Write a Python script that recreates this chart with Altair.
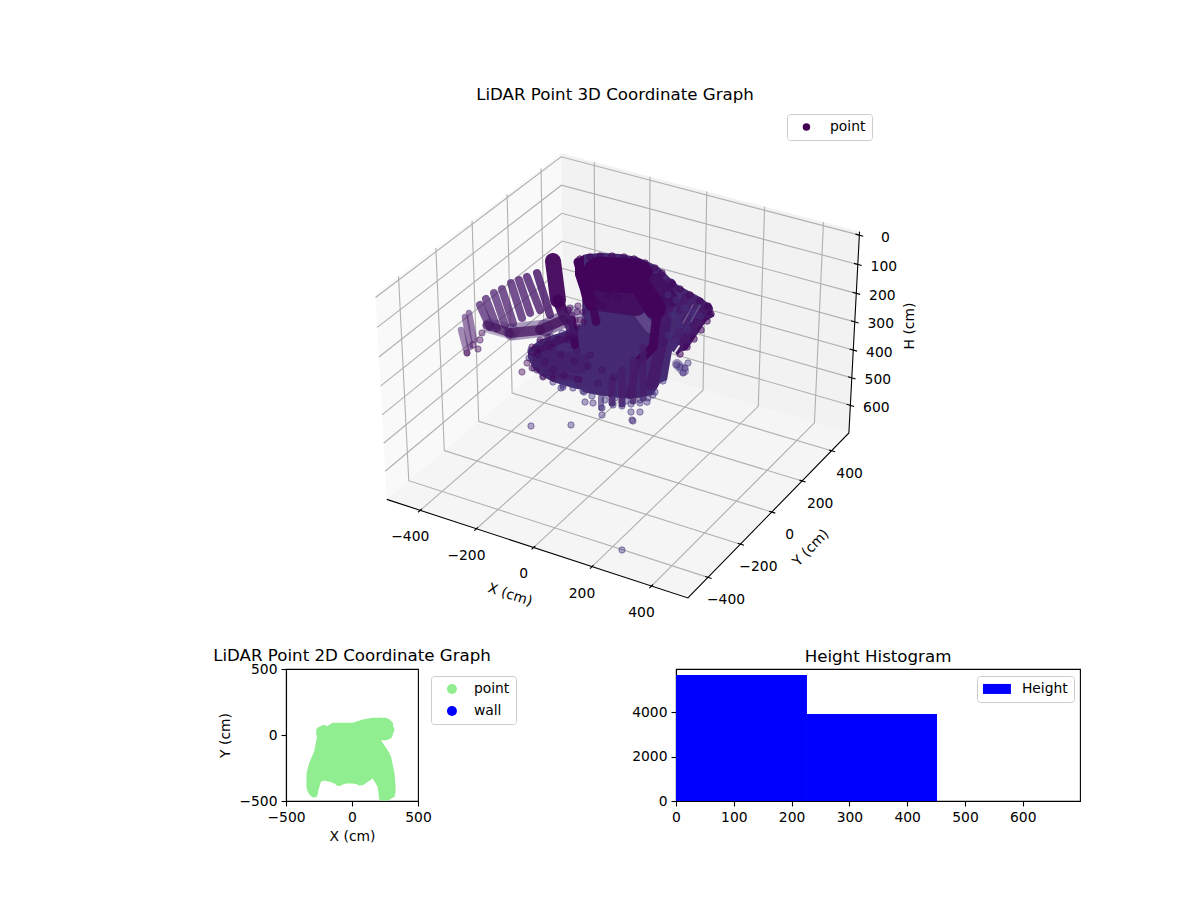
import numpy as np
import pandas as pd
import altair as alt

FONT = "DejaVu Sans"
TICK_PX = 13.89
TITLE_PX = 16.67

# ---- 3D frame -------------------------------------------------------------
x_lim = [-520.8, 520.8]
y_lim = [-520.8, 520.8]
h_lim = [-12, 702]
x_ticks = [-400, -200, 0, 200, 400]
y_ticks = [-400, -200, 0, 200, 400]
h_ticks = [0, 100, 200, 300, 400, 500, 600]
# known places: (x, y, h) -> view-plane position
known_cm = [(-520.8, -520.8, 702), (520.8, -520.8, 702), (520.8, 520.8, 702),
            (-520.8, -520.8, -12), (-520.8, 520.8, -12), (520.8, 520.8, -12),
            (520.8, 520.8, 0), (520.8, 520.8, 600), (-400, -520.8, 702), (400, -520.8, 702)]
known_u = [386, 689, 849, 376, 562, 859, 859, 851, 420, 650]
known_v = [499, 597, 433, 294, 155, 231, 234, 404, 512, 587]

# ---- 3D cloud in the view plane -------------------------------------------
D = "#41045a"
M = "#451868"
L = "#452a72"
P = "#4a1a6c"
# outline of the dense mass: position, upper and lower edge
mass_u = [528, 533, 540, 553, 563, 573, 582, 583, 587, 603, 620, 637, 653, 660, 667, 672, 678, 687, 700, 708, 714]
mass_top = [353, 345, 340, 335, 332, 327, 323, 255, 254, 253, 254, 257, 264, 268, 275, 280, 285, 290, 297, 303, 315]
mass_bot = [358, 368, 375, 382, 385, 388, 390, 392, 393, 396, 398, 398, 395, 383, 380, 351, 355, 343, 325, 320, 316]
shoulder_u = [575, 580, 584]
shoulder_top = [262, 257, 255]
shoulder_bot = [275, 290, 306]
cloud_strokes = [
    # pale cluster between strut and mass
    (574, 312, 578, 320, 13, "#8a78ab", .5),
    # lobe shade
    (542, 358, 580, 364, 20, "#44206a", .75),
    # right wing
    (707, 309, 683, 345, 12, M, 1), (670, 285, 662, 340, 13, M, .95), (662, 340, 652, 385, 12, M, .9),
    (686, 297, 680, 310, 8, M, .8), (695, 300, 675, 340, 8, "#47206c", .7),
    # lighter patches
    (640, 315, 650, 328, 10, "#7a62a0", .5), (677, 364, 684, 371, 10, "#46327e", .5),
    (693, 305, 683, 323, 1.2, "#ffffff", .28), (700, 305, 691, 322, 1.1, "#ffffff", .22),
    (679, 346, 675, 352, 2, "#ffffff", .85),
    # upper dark mass
    (600, 300, 636, 305, 22, "#431060", 1), (600, 274, 636, 276, 35, D, 1), (640, 283, 655, 308, 22, D, 1),
    (578, 262, 590, 306, 9, D, 1), (590, 290, 596, 322, 8, D, .9), (656, 280, 672, 300, 14, "#43105f", .9),
    # dark stripes over the body
    (657, 313, 653, 347, 9, D, .95), (653, 347, 637, 363, 9, D, .95), (637, 363, 630, 395, 8, M, .9),
    (572, 320, 575, 345, 8, D, .95),
    # lower left lobe
    (532, 352, 570, 335, 9, "#431362", .9), (545, 372, 580, 380, 6, "#431362", .5),
    # wing columns
    (480, 305, 490, 327, 8, P, .72), (486, 299, 497, 328, 8, P, .72), (494, 293, 505, 325, 8, P, .72),
    (502, 289, 513, 323, 8, P, .74), (511, 283, 522, 318, 8, P, .76), (519, 280, 530, 313, 8, P, .78),
    (527, 277, 540, 310, 8, P, .8), (537, 273, 550, 315, 8, P, .85),
    (469, 313, 474, 340, 6.5, P, .55), (465, 317, 470, 347, 6.5, P, .55), (461, 330, 467, 353, 6.5, P, .5),
    # wing strut
    (553, 261, 558, 300, 16, D, .95), (558, 300, 565, 318, 11, D, .95), (565, 318, 573, 335, 8, M, .9),
    # band below the wing
    (490, 326, 512, 332, 15, "#4a2a72", .35), (512, 332, 545, 328, 17, "#4a2a72", .45),
    (545, 328, 566, 318, 17, "#4a2a72", .55),
    (487, 325, 510, 333, 9, "#45145f", .68), (510, 333, 540, 330, 10, "#45145f", .75),
    (540, 330, 563, 320, 10, "#45145f", .85),
    # bottom columns
    (601, 397, 601, 408, 6, "#472f78", .65), (612, 380, 612, 403, 7, "#461d6a", .9),
    (622, 370, 622, 404, 7, "#461d6a", .9), (633, 360, 633, 401, 7, "#461d6a", .85),
    (643, 347, 643, 398, 7, "#461d6a", .8),
]
# loose points at the top of the range, drawn in the legend colour
wing_u = [482, 480, 478, 467, 473, 522, 527, 532, 537, 543, 553, 532, 540, 548, 538, 577, 575, 580, 572, 570, 578, 583, 569, 584, 577]
wing_v = [333, 340, 349, 353, 345, 372, 363, 368, 370, 377, 378, 347, 340, 337, 350, 312, 320, 320, 315, 308, 306, 312, 322, 322, 327]
# dense points along the upper rim
rim_u = [580, 590, 600, 612, 624, 634, 645, 655, 662, 672, 680, 690, 700, 708, 711, 707, 701, 694, 687, 680,
         588, 597, 602, 618, 598, 608, 613, 597, 572, 568]
rim_v = [259, 257, 256, 256, 257, 259, 263, 268, 273, 284, 289, 295, 301, 306, 314, 321, 330, 339, 347, 354,
         303, 302, 305, 298, 287, 295, 290, 320, 337, 310]
# scattered points across the lower left lobe
lobe_dot_u = [538, 552, 568, 545, 561, 577, 553, 574, 590, 564, 588, 578, 602, 598, 614]
lobe_dot_v = [355, 347, 340, 362, 355, 350, 370, 361, 355, 375, 366, 379, 370, 383, 377]
# loose points lower in the range
low_u = [531, 571, 633, 622, 583, 585, 593, 602, 602, 613, 622, 631, 631, 640, 640, 632, 647, 653, 563, 561, 570, 683, 688, 680, 677, 685,
         663, 655, 648, 640, 626, 615, 605, 592, 584, 573, 563, 553, 543, 534, 529, 531, 540, 551, 562,
         668, 676, 684, 692, 700, 672, 680, 688, 668, 676]
low_v = [426, 425, 421, 550, 391, 402, 403, 415, 408, 405, 406, 404, 412, 403, 412, 420, 402, 395, 387, 388, 382, 373, 363, 367, 365, 368,
         381, 392, 398, 400, 401, 398, 400, 396, 392, 388, 385, 382, 376, 368, 358, 350, 342, 337, 333,
         295, 300, 308, 312, 316, 315, 325, 330, 335, 342]

# ---- 2D footprint ---------------------------------------------------------
body_x = [-345, -325, -287, -269, -261, -236, -198, -147, -96, -46, 5, 81, 157, 195, 208, 221, 222, 259, 284, 297, 322, 330]
body_top = [-291, -214, -125, -36, 15, 36, 61, 92, 92, 92, 92, 117, 130, 130, 130, 130, -43, -99, -138, -170, -291, -393]
body_bot = [-393, -449, -474, -469, -444, -355, -342, -362, -385, -367, -367, -380, -329, -393, -495, -495, -495, -500, -490, -482, -469, -430]
lobe_x = [200, 259, 284, 300, 310]
lobe_top = [130, 130, 117, 95, 61]
lobe_bot = [-40, -40, -30, -20, 3]
edge_x = [-290, -310, 240, 290, 280, 290, -100, 60, -180, -240, -240, -215]
edge_y = [-440, -410, -465, -440, 80, 40, -355, -350, -320, 10, 30, 45]

# ---- Histogram ------------------------------------------------------------
bin_start = [0, 226.0, 451.6]
bin_end = [226.6, 451.6, 678]
bin_count = [5675, 3920, 4]


# ---- projection -----------------------------------------------------------
box = np.array([4, 4, 3]) * 1.8294640721620434 / np.linalg.norm([4, 4, 3])
center = box / 2


def to_box(x, y, h):
    return np.array([(x - x_lim[0]) / (x_lim[1] - x_lim[0]) * box[0],
                     (y - y_lim[0]) / (y_lim[1] - y_lim[0]) * box[1],
                     (h_lim[1] - h) / (h_lim[1] - h_lim[0]) * box[2]])


def view_basis(el_deg, az_deg, dist):
    el, az = np.radians(el_deg), np.radians(az_deg)
    w = np.array([np.cos(el) * np.cos(az), np.cos(el) * np.sin(az), np.sin(el)])
    u = np.cross([0, 0, 1], w)
    u = u / np.linalg.norm(u)
    return center + dist * w, u, np.cross(w, u), w


def raw_many(pts, basis):
    eye, u, v, w = basis
    p = pts - eye
    d = -(p @ w)
    return (p @ u) / d, (p @ v) / d


known_box = np.array([to_box(*c) for c in known_cm])
tu, tv = np.array(known_u, float), np.array(known_v, float)
best = None
for e in np.arange(20, 46, 1.0):
    for a in np.arange(-75, -44, 1.0):
        for dd in np.arange(4, 15, 0.5):
            b = view_basis(e, a, dd)
            ru, rv = raw_many(known_box, b)
            cu = np.polyfit(ru, tu, 1)
            cv = np.polyfit(rv, tv, 1)
            err = np.sum((np.polyval(cu, ru) - tu) ** 2) + np.sum((np.polyval(cv, rv) - tv) ** 2)
            if best is None or err < best[0]:
                best = (err, b, cu, cv)
_, basis, fit_u, fit_v = best


def project(x, y, h):
    ru, rv = raw_many(to_box(x, y, h)[None, :], basis)
    return float(np.polyval(fit_u, ru)[0]), float(np.polyval(fit_v, rv)[0])


X0, X1 = x_lim
Y0, Y1 = y_lim
HT, HB = h_lim

SU = alt.Scale(domain=[8, 1192], nice=False, zero=False)
SV = alt.Scale(domain=[648, 8], nice=False, zero=False)
U = alt.X("u:Q", scale=SU, axis=None)
V = alt.Y("v:Q", scale=SV, axis=None)


def pane(corners, colour):
    pts = [project(*c) for c in corners]
    rows = []
    for u0, _ in pts:
        vs = []
        for i in range(4):
            (a, b), (c, d) = pts[i], pts[(i + 1) % 4]
            if min(a, c) <= u0 <= max(a, c) and a != c:
                vs.append(b + (d - b) * (u0 - a) / (c - a))
        rows.append({"u": u0, "v": min(vs), "v2": max(vs)})
    return alt.Chart(pd.DataFrame(rows)).mark_area(color=colour, opacity=1).encode(
        x=U, y=V, y2=alt.Y2("v2:Q"))


panes = [
    pane([(X0, Y0, HB), (X0, Y0, HT), (X0, Y1, HT), (X0, Y1, HB)], "#f9f9f9"),
    pane([(X0, Y1, HB), (X0, Y1, HT), (X1, Y1, HT), (X1, Y1, HB)], "#f2f2f2"),
    pane([(X0, Y0, HB), (X1, Y0, HB), (X1, Y1, HB), (X0, Y1, HB)], "#f5f5f5"),
]

grid_rows, ink_rows = [], []


def add_path(store, pts):
    g = (store[-1]["g"] + 1) if store else 0
    for o, p in enumerate(pts):
        a, b = project(*p)
        store.append({"g": g, "o": o, "u": a, "v": b})


for t in x_ticks:
    add_path(grid_rows, [(t, Y0, HB), (t, Y1, HB), (t, Y1, HT)])
for t in y_ticks:
    add_path(grid_rows, [(X1, t, HB), (X0, t, HB), (X0, t, HT)])
for t in h_ticks:
    add_path(grid_rows, [(X0, Y0, t), (X0, Y1, t), (X1, Y1, t)])

add_path(ink_rows, [(X0, Y0, HB), (X1, Y0, HB), (X1, Y1, HB), (X1, Y1, HT)])
labels = []
for t in x_ticks:
    add_path(ink_rows, [(t, Y0 + 9, HB), (t, Y0 - 12, HB)])
    a, b = project(t, Y0, HB)
    labels.append({"u": a - 10, "v": b + 27, "t": str(t).replace("-", "\u2212"), "a": 0})
for t in y_ticks:
    add_path(ink_rows, [(X1 - 9, t, HB), (X1 + 12, t, HB)])
    a, b = project(X1, t, HB)
    labels.append({"u": a + 18, "v": b + 23, "t": str(t).replace("-", "\u2212"), "a": 0})
for t in h_ticks:
    add_path(ink_rows, [(X1 - 13, Y1, t), (X1 + 13, Y1, t)])
    a, b = project(X1, Y1, t)
    labels.append({"u": a + 26, "v": b + 2.5, "t": str(t), "a": 0})
labels += [
    {"u": 510, "v": 595, "t": "X (cm)", "a": 18},
    {"u": 811, "v": 548, "t": "Y (cm)", "a": 314},
    {"u": 910, "v": 326, "t": "H (cm)", "a": 270},
]

grid = alt.Chart(pd.DataFrame(grid_rows)).mark_line(color="#b0b0b0", strokeWidth=1.1).encode(
    x=U, y=V, detail="g:N", order="o:Q")
ink = alt.Chart(pd.DataFrame(ink_rows)).mark_line(color="black", strokeWidth=1.1).encode(
    x=U, y=V, detail="g:N", order="o:Q")
text3d = alt.Chart(pd.DataFrame(labels)).mark_text(
    font=FONT, fontSize=TICK_PX, color="black", align="center", baseline="middle").encode(
    x=U, y=V, text="t:N", angle=alt.Angle("a:Q", scale=None))
title3d = alt.Chart(pd.DataFrame({"u": [615], "v": [95], "t": ["LiDAR Point 3D Coordinate Graph"]})).mark_text(
    font=FONT, fontSize=TITLE_PX, color="black", align="center", baseline="middle").encode(x=U, y=V, text="t:N")

mass = alt.Chart(pd.DataFrame({"u": mass_u, "v": mass_top, "v2": mass_bot})).mark_area(color=L, opacity=1).encode(
    x=U, y=V, y2=alt.Y2("v2:Q"))
shoulder = alt.Chart(pd.DataFrame({"u": shoulder_u, "v": shoulder_top, "v2": shoulder_bot})).mark_area(color=D, opacity=1).encode(
    x=U, y=V, y2=alt.Y2("v2:Q"))
strokes_df = pd.DataFrame(cloud_strokes, columns=["u", "v", "u2", "v2", "w", "c", "a"])
strokes = alt.Chart(strokes_df).mark_rule(strokeCap="round").encode(
    x=U, y=V, x2=alt.X2("u2:Q"), y2=alt.Y2("v2:Q"),
    strokeWidth=alt.StrokeWidth("w:Q", scale=None),
    color=alt.Color("c:N", scale=None),
    opacity=alt.Opacity("a:Q", scale=None))
rim = alt.Chart(pd.DataFrame({"u": rim_u, "v": rim_v})).mark_circle(
    size=44, color="#42085c", stroke="#42085c", strokeWidth=1, fillOpacity=.55, strokeOpacity=.6).encode(x=U, y=V)
lobe_dots = alt.Chart(pd.DataFrame({"u": lobe_dot_u, "v": lobe_dot_v})).mark_circle(
    size=44, color="#42085c", stroke="#42085c", strokeWidth=1, fillOpacity=.3, strokeOpacity=.35).encode(x=U, y=V)
low = alt.Chart(pd.DataFrame({"u": low_u, "v": low_v})).mark_circle(
    size=40, color="#46327e", stroke="#46327e", strokeWidth=1, fillOpacity=.42, strokeOpacity=.55).encode(x=U, y=V)
wing = alt.Chart(pd.DataFrame({"u": wing_u, "v": wing_v, "s": ["point"] * len(wing_u)})).mark_circle(
    size=40, stroke="#46206a", strokeWidth=1, fillOpacity=.42, strokeOpacity=.5).encode(
    x=U, y=V,
    color=alt.Color("s:N", title=None, scale=alt.Scale(domain=["point"], range=["#440154"]),
                    legend=alt.Legend(orient="none", legendX=779, legendY=106, fillColor="white",
                                      strokeColor="#cccccc", cornerRadius=3, padding=6,
                                      symbolType="circle", symbolSize=56, symbolOpacity=1,
                                      symbolStrokeWidth=0, symbolOffset=6.5, labelOffset=16.6,
                                      labelFont=FONT, labelFontSize=TICK_PX, labelColor="black")))

top = alt.layer(*panes, grid, ink, mass, shoulder, strokes, low, lobe_dots, rim, wing, text3d, title3d).properties(
    width=1184, height=640).resolve_scale(color="independent")

# ---- 2D panel -------------------------------------------------------------
S2X = alt.Scale(domain=[-500, 500], nice=False, zero=False)
S2Y = alt.Scale(domain=[-500, 500], nice=False, zero=False)
AX2 = alt.Axis(values=[-500, 0, 500], title="X (cm)", grid=False, labelFlush=False, format="d")
AY2 = alt.Axis(values=[-500, 0, 500], title="Y (cm)", grid=False, labelFlush=False, format="d")
GREEN = "#90ee90"
body = alt.Chart(pd.DataFrame({"x": body_x, "y": body_top, "y2": body_bot})).mark_area(color=GREEN, opacity=1).encode(
    x=alt.X("x:Q", scale=S2X, axis=AX2), y=alt.Y("y:Q", scale=S2Y, axis=AY2), y2="y2:Q")
lobe = alt.Chart(pd.DataFrame({"x": lobe_x, "y": lobe_top, "y2": lobe_bot})).mark_area(color=GREEN, opacity=1).encode(
    x=alt.X("x:Q", scale=S2X), y=alt.Y("y:Q", scale=S2Y), y2="y2:Q")
edge = alt.Chart(pd.DataFrame({"x": edge_x, "y": edge_y, "s": ["point"] * len(edge_x)})).mark_circle(
    size=70, opacity=1, clip=True).encode(
    x=alt.X("x:Q", scale=S2X), y=alt.Y("y:Q", scale=S2Y),
    color=alt.Color("s:N", title=None, scale=alt.Scale(domain=["point", "wall"], range=[GREEN, "#0000ff"]),
                    legend=alt.Legend(orient="none", legendX=145, legendY=7, fillColor="white",
                                      strokeColor="#cccccc", cornerRadius=3, padding=6,
                                      symbolType="circle", symbolSize=100, symbolOpacity=1,
                                      symbolStrokeWidth=0, symbolOffset=8, labelOffset=15,
                                      rowPadding=7,
                                      labelFont=FONT, labelFontSize=TICK_PX, labelColor="black")))
frame = alt.ViewConfig(stroke="black", strokeWidth=1.1)
left = alt.layer(body, lobe, edge).properties(
    width=132, height=132, view=frame,
    title=alt.TitleParams("LiDAR Point 2D Coordinate Graph", offset=3, dy=6))

# ---- Histogram ------------------------------------------------------------
hist_df = pd.DataFrame({"a": bin_start, "b": bin_end, "n": bin_count, "s": ["Height"] * 3})
right = alt.Chart(hist_df).mark_rect().encode(
    x=alt.X("a:Q", scale=alt.Scale(domain=[0, 699], nice=False, zero=False),
            axis=alt.Axis(values=[0, 100, 200, 300, 400, 500, 600], title=None, grid=False, labelFlush=False, format="d")),
    x2="b:Q",
    y=alt.Y("n:Q", scale=alt.Scale(domain=[0, 5945], nice=False),
            axis=alt.Axis(values=[0, 2000, 4000], title=None, grid=False, labelFlush=False, format="d")),
    y2=alt.datum(0),
    color=alt.Color("s:N", title=None, scale=alt.Scale(domain=["Height"], range=["#0000ff"]),
                    legend=alt.Legend(orient="none", legendX=301, legendY=7, fillColor="white",
                                      strokeColor="#cccccc", cornerRadius=3, padding=6,
                                      symbolType="M-2.8,-1H2.8V1H-2.8Z", symbolSize=100,
                                      symbolOpacity=1, symbolStrokeWidth=0, symbolOffset=7, labelOffset=18,
                                      labelFont=FONT, labelFontSize=TICK_PX, labelColor="black")),
).properties(width=404, height=132, view=frame, title=alt.TitleParams("Height Histogram", offset=3))

spacer = alt.Chart(pd.DataFrame({"a": [0]})).mark_text(opacity=0).encode(text="a:N").properties(width=20, height=132)

bottom = alt.hconcat(spacer, left, right, spacing=258, bounds="flush").resolve_scale(color="independent")
chart = alt.vconcat(top, bottom, spacing=21, bounds="flush", padding=0).resolve_scale(color="independent").configure_view(
    strokeWidth=0
).configure_axis(
    labelFont=FONT, labelFontSize=TICK_PX, labelColor="black", titleFont=FONT, titleFontSize=TICK_PX,
    titleFontWeight="normal", titleColor="black", domainColor="black", domainWidth=1.1,
    tickColor="black", tickWidth=1.1, tickSize=5, labelPadding=4, titlePadding=6
).configure_title(
    font=FONT, fontSize=TITLE_PX, fontWeight="normal", color="black", anchor="middle"
)

chart.save("out.html", embed_options={"renderer": "svg", "actions": False})
